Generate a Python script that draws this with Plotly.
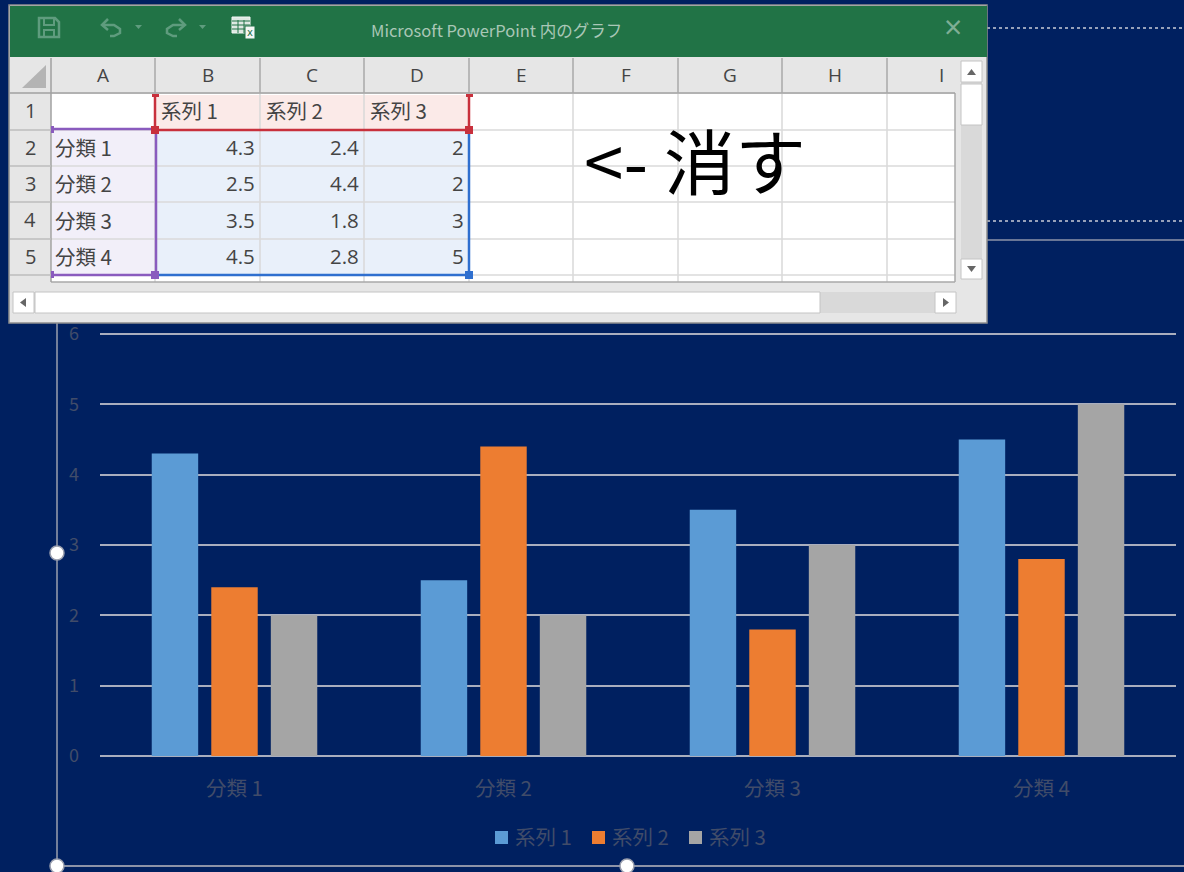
import plotly.graph_objects as go

categories = ["分類 1", "分類 2", "分類 3", "分類 4"]
series_names = ["系列 1", "系列 2", "系列 3"]
series_1 = [4.3, 2.5, 3.5, 4.5]
series_2 = [2.4, 4.4, 1.8, 2.8]
series_3 = [2, 2, 3, 5]
series_values = [series_1, series_2, series_3]
series_colors = ["#5B9BD5", "#ED7D31", "#A5A5A5"]
column_letters = ["A", "B", "C", "D", "E", "F", "G", "H", "I"]
y_ticks = [0, 1, 2, 3, 4, 5, 6]

W, H = 1184, 872
NAVY = "#002060"
DIM = "#414C69"
GRID = "#A9AEBE"
CJK = "Noto Sans CJK JP"

# Value axis runs a hair past 6 so the top gridline is still drawn
Y_MAX = 6.02
Y_ZERO_PX = 756
Y_SIX_PX = 334
Y_TOP_PX = Y_ZERO_PX - (Y_ZERO_PX - Y_SIX_PX) * Y_MAX / 6


def px(x):
    return x / W


def py(y):
    return 1 - y / H


shapes = []
annotations = []


def rect(x0, y0, x1, y1, fill, line=None, lw=1):
    shapes.append(dict(type="rect", xref="paper", yref="paper", layer="above",
                       x0=px(x0), y0=py(y0), x1=px(x1), y1=py(y1), fillcolor=fill,
                       line=dict(color=line, width=lw) if line else dict(width=0)))


def seg(x0, y0, x1, y1, color, lw=1, dash="solid"):
    shapes.append(dict(type="line", xref="paper", yref="paper", layer="above",
                       x0=px(x0), y0=py(y0), x1=px(x1), y1=py(y1),
                       line=dict(color=color, width=lw, dash=dash)))


def poly(points, fill=None, line=None, lw=1, close=True):
    d = "M" + " L".join(f"{px(x):.5f},{py(y):.5f}" for x, y in points) + (" Z" if close else "")
    shapes.append(dict(type="path", xref="paper", yref="paper", layer="above", path=d,
                       fillcolor=fill if fill else "rgba(0,0,0,0)",
                       line=dict(color=line, width=lw) if line else dict(width=0)))


def dot(x, y, r=7):
    shapes.append(dict(type="circle", xref="paper", yref="paper", layer="above",
                       x0=px(x - r), y0=py(y - r), x1=px(x + r), y1=py(y + r),
                       fillcolor="white", line=dict(color="#9A9FAE", width=1.5)))


def label(x, y, text, size=20.5, color="#444444", anchor="center", family=CJK):
    annotations.append(dict(xref="paper", yref="paper", x=px(x), y=py(y), text=text,
                            showarrow=False, xanchor=anchor, yanchor="middle",
                            font=dict(family=family, size=size, color=color)))


# Slide frame lines behind the data sheet window
seg(987, 28, 1184, 28, "#C9CCD6", 1.5, "dot")
seg(987, 221, 1184, 221, "#C9CCD6", 1.5, "dot")
seg(987, 240, 1184, 240, "#8C93A8", 1.5)
seg(57, 323, 57, 866, "#9A9FAE", 1.5)
seg(57, 866, 1184, 866, "#8C93A8", 2)
dot(57, 553)
dot(57, 866)
dot(627, 866)

# Legend drawn as swatches and labels
legend_x = [495, 592, 689]
for name, color, x in zip(series_names, series_colors, legend_x):
    rect(x, 831, x + 13, 844, color)
    label(x + 18, 836, name, size=20.5, color=DIM, anchor="left")

# Data sheet window frame and title bar
rect(9, 5, 987, 323, "#E6E6E6", "#8E8E8E", 1.5)
rect(10, 6, 987, 57, "#217346")
label(497, 30, "Microsoft PowerPoint 内のグラフ", size=16.5, color="#A9C7B6")
label(953, 27, "×", size=32, color="#7FAE95", family="Open Sans")

# Quick access toolbar glyphs
ICON = "#5F9C7E"
poly([(39, 18), (55, 18), (59, 22), (59, 37), (39, 37)], None, ICON, 2.5)
rect(44, 18, 54, 25, "rgba(0,0,0,0)", ICON, 2)
rect(44, 30, 54, 37, "rgba(0,0,0,0)", ICON, 2)
poly([(108, 19), (102, 25), (108, 30)], None, ICON, 2.5, close=False)
poly([(102, 25), (114, 25), (120, 29), (120, 33), (114, 36), (110, 36)], None, ICON, 2.5, close=False)
poly([(179, 19), (185, 25), (179, 30)], None, ICON, 2.5, close=False)
poly([(185, 25), (173, 25), (167, 29), (167, 33), (173, 36), (177, 36)], None, ICON, 2.5, close=False)
poly([(135, 25), (142, 25), (138.5, 29)], ICON)
poly([(199, 25), (206, 25), (202.5, 29)], ICON)
rect(232, 17, 250, 33, "#DDE8E2", "#F2F6F4", 1)
for gx in (238, 244):
    seg(gx, 20, gx, 33, "#217346", 1)
for gy in (21, 25, 29):
    seg(232, gy, 250, gy, "#217346", 1)
rect(245, 26, 255, 39, "#F4F7F5", "#217346", 1)
label(250, 33, "x", size=10, color="#217346", family="DejaVu Sans")

# Sheet grid
col_edges = [51, 155, 260, 364, 469, 573, 678, 782, 887, 955]
row_edges = [94, 130, 166, 202, 239, 275, 282]
rect(51, 94, 955, 282, "white")
rect(155, 95, 469, 130, "#FBEAE8")
rect(52, 130, 155, 275, "#F2EFF9")
rect(155, 130, 469, 275, "#E9F0FA")
for x in col_edges[1:-1]:
    seg(x, 94, x, 282, "#D9D9D9", 1.5)
for y in row_edges[1:-1]:
    seg(51, y, 955, y, "#DADADA", 1.5)
seg(51, 282, 955, 282, "#A8A8A8", 1.5)
seg(955, 93, 955, 282, "#A8A8A8", 1.5)

# Row and column headers
seg(9, 93, 955, 93, "#A0A0A0", 1.5)
seg(51, 58, 51, 282, "#A0A0A0", 1.5)
for x in col_edges[1:-1]:
    seg(x, 58, x, 93, "#A8A8A8", 1.5)
for y in row_edges[1:-1]:
    seg(10, y, 51, y, "#BDBDBD", 1.5)
poly([(22, 88), (46, 65), (46, 88)], "#B4B4B4")
for i, letter in enumerate(column_letters):
    right = col_edges[i + 1] if i < 8 else 995
    label((col_edges[i] + right) / 2, 75, letter, size=19, color="#444444", family="Open Sans")
for r in range(5):
    label(30, (row_edges[r] + row_edges[r + 1]) / 2 - 1, str(r + 1), size=20, family="Open Sans")

# Sheet contents come from the same arrays as the bars
for c, name in enumerate(series_names):
    label(col_edges[c + 1] + 4, 110, name, anchor="left")
for r, cat in enumerate(categories):
    mid = (row_edges[r + 1] + row_edges[r + 2]) / 2 - 1
    label(53, mid, cat, anchor="left")
    for c, values in enumerate(series_values):
        label(col_edges[c + 2] - 3, mid, str(values[r]), anchor="right", size=20.5, family="Open Sans")

# Range selection outlines and handles
RED, PURPLE, BLUE = "#C8303C", "#8A5BBE", "#2F6FCF"
seg(155, 97, 155, 130, RED, 2.5)
seg(469, 97, 469, 130, RED, 2.5)
seg(155, 130, 469, 130, RED, 2.5)
seg(53, 129, 155, 129, PURPLE, 2.5)
seg(156, 132, 156, 275, PURPLE, 2.5)
seg(53, 275, 155, 275, PURPLE, 2.5)
seg(469, 132, 469, 275, BLUE, 2.5)
seg(158, 275, 469, 275, BLUE, 2.5)
rect(151, 126, 159, 134, RED)
rect(465, 126, 473, 134, RED)
rect(152, 94, 159, 97, RED)
rect(466, 94, 473, 97, RED)
rect(51, 126, 54, 133, PURPLE)
rect(51, 271, 54, 278, PURPLE)
rect(151, 271, 159, 279, PURPLE)
rect(465, 271, 473, 279, BLUE)

# Vertical scrollbar
rect(961, 61, 982, 279, "#D9D9D9")
rect(961, 61, 982, 82, "white", "#C4C4C4", 1)
rect(961, 84, 982, 125, "white", "#C4C4C4", 1)
rect(961, 259, 982, 279, "white", "#C4C4C4", 1)
poly([(967, 75), (976, 75), (971.5, 69)], "#666666")
poly([(967, 266), (976, 266), (971.5, 272)], "#666666")

# Horizontal scrollbar
rect(13, 292, 956, 313, "#D9D9D9")
rect(13, 292, 34, 313, "white", "#C4C4C4", 1)
rect(35, 292, 820, 313, "white", "#C4C4C4", 1)
rect(935, 292, 956, 313, "white", "#C4C4C4", 1)
poly([(26, 298), (26, 307), (20, 302.5)], "#666666")
poly([(943, 298), (943, 307), (949, 302.5)], "#666666")

# Note placed on the sheet
label(695, 158, "<- 消す", size=71, color="#000000", family=CJK)

fig = go.Figure()
for name, values, color in zip(series_names, series_values, series_colors):
    fig.add_trace(go.Bar(name=name, x=categories, y=values, marker=dict(color=color, line=dict(width=0))))

fig.update_layout(
    width=W, height=H, margin=dict(l=0, r=0, t=0, b=0),
    paper_bgcolor=NAVY, plot_bgcolor=NAVY,
    barmode="group", bargap=0.336, bargroupgap=0.22,
    showlegend=False,
    font=dict(family=CJK, color=DIM),
    shapes=shapes, annotations=annotations,
    xaxis=dict(domain=[px(100), px(1176)], showgrid=False, showline=False, zeroline=False,
               automargin=False, tickfont=dict(size=20.5, color=DIM), ticks="", ticklabelstandoff=18),
    yaxis=dict(domain=[py(Y_ZERO_PX), py(Y_TOP_PX)], range=[0, Y_MAX], tickvals=y_ticks,
               showgrid=True, gridcolor=GRID, gridwidth=1.5,
               zeroline=True, zerolinecolor=GRID, zerolinewidth=2,
               showline=False, ticks="", ticklabelstandoff=20, automargin=False,
               tickfont=dict(size=18, color=DIM)),
)

fig.write_html("out.html")
